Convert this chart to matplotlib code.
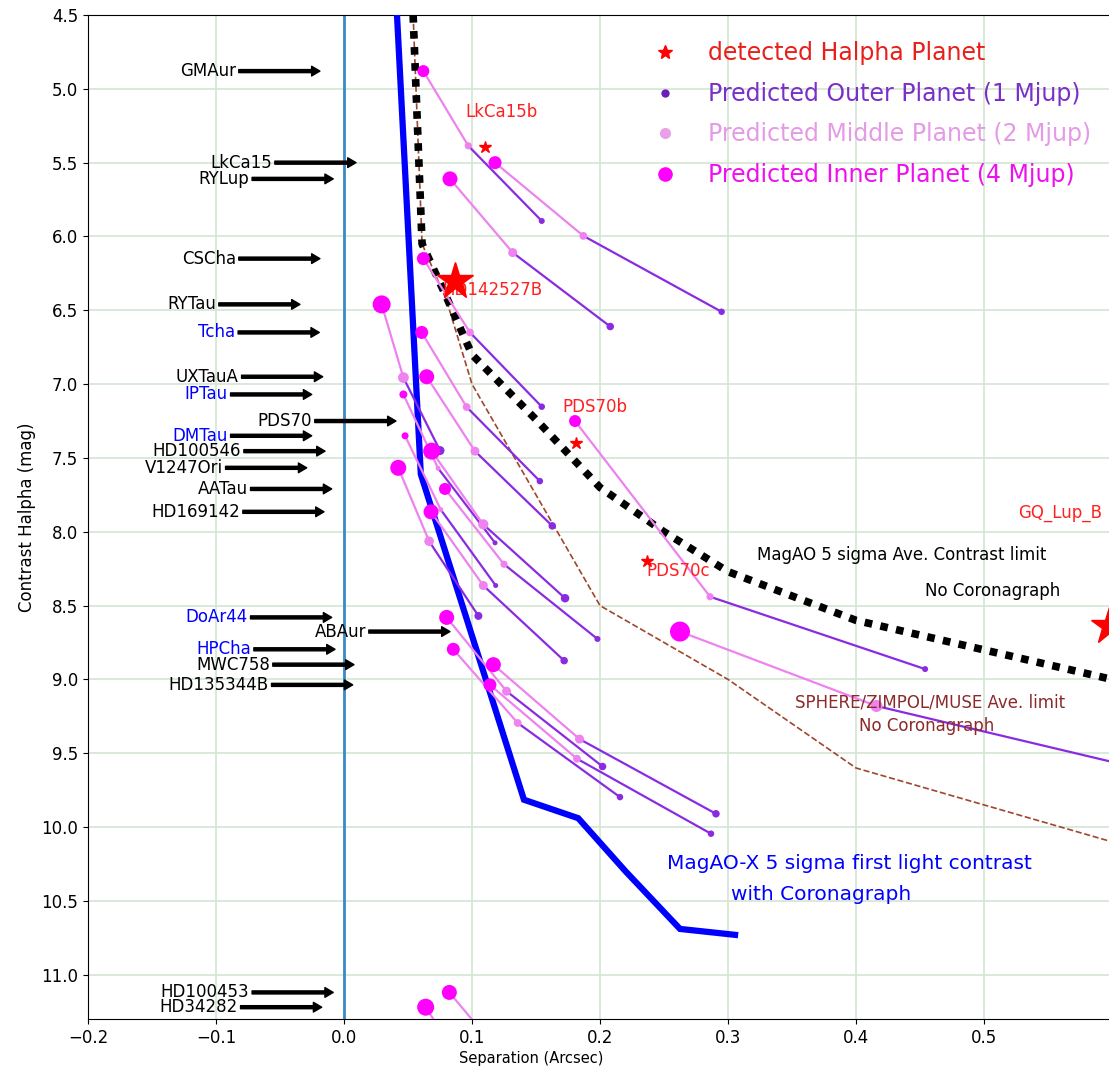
import matplotlib
import matplotlib.pyplot as plt
from matplotlib.lines import Line2D

matplotlib.use("Agg")

# host stars, top to bottom, with predicted planets (inner 4 Mjup, middle 2 Mjup, outer 1 Mjup)
stars = ["GMAur", "LkCa15", "RYLup", "CSCha", "RYTau", "Tcha", "UXTauA", "IPTau",
         "PDS70", "DMTau", "HD100546", "V1247Ori", "AATau", "HD169142", "DoAr44",
         "ABAur", "HPCha", "MWC758", "HD135344B", "HD100453", "HD34282"]
name_colors = ["black", "black", "black", "black", "black", "blue", "black", "blue",
               "black", "blue", "black", "black", "black", "black", "blue",
               "black", "blue", "black", "black", "black", "black"]
arrow_tip = [-0.0188, 0.0094, -0.0084, -0.0188, -0.0344, -0.0193, -0.0166, -0.0252,
             0.0406, -0.0252, -0.0148, -0.0291, -0.0096, -0.0156, -0.0096,
             0.0828, -0.0070, 0.0078, 0.0068, -0.0084, -0.0174]
inner_mag = [4.88, 5.50, 5.61, 6.15, 6.46, 6.65, 6.95, 7.07, 7.25, 7.35, 7.454, 7.567,
             7.71, 7.865, 8.58, 8.676, 8.796, 8.90, 9.037, 11.12, 11.22]
inner_sep = [0.062, 0.118, 0.0828, 0.062, 0.0294, 0.0607, 0.0646, 0.0464, 0.1805, 0.0477,
             0.0685, 0.0424, 0.0789, 0.068, 0.0802, 0.2625, 0.0854, 0.1167, 0.114,
             0.0823, 0.0638]
middle_sep = [0.0971, 0.187, 0.1318, 0.0984, 0.0464, 0.0958, 0.1023, 0.0735, 0.286, 0.0756,
              0.1088, 0.0665, 0.125, 0.1088, 0.127, 0.416, 0.1357, 0.184, 0.182,
              0.1305, 0.101]
middle_mag = [5.386, 5.996, 6.109, 6.65, 6.956, 7.155, 7.454, 7.57, 8.44, 7.85, 7.95, 8.064,
              8.22, 8.364, 9.08, 9.18, 9.295, 9.404, 9.537, 11.62, 11.72]
outer_sep = [0.1545, 0.295, 0.208, 0.1545, 0.075, 0.153, 0.1627, 0.118, 0.454, 0.1185,
             0.1727, 0.105, 0.198, 0.172, 0.202, 0.659, 0.2156, 0.2906, 0.2867,
             0.207, 0.160]
outer_mag = [5.895, 6.51, 6.61, 7.153, 7.45, 7.657, 7.96, 8.075, 8.93, 8.364, 8.45, 8.57,
             8.726, 8.873, 9.59, 9.68, 9.797, 9.91, 10.045, 12.12, 12.22]

# detected H-alpha companions
detected = ["LkCa15b", "HD142527B", "PDS70b", "PDS70c", "GQ_Lup_B"]
detected_sep = [0.110, 0.0867, 0.181, 0.2365, 0.5975]
detected_mag = [5.397, 6.30, 7.397, 8.20, 8.64]

# contrast curves
magao_sep = [0.054, 0.061, 0.08, 0.10, 0.15, 0.20, 0.25, 0.30, 0.40, 0.50, 0.60]
magao_mag = [4.5, 6.05, 6.41, 6.80, 7.24, 7.70, 8.00, 8.27, 8.60, 8.80, 9.00]
sphere_sep = [0.054, 0.061, 0.08, 0.10, 0.20, 0.30, 0.40, 0.60]
sphere_mag = [4.5, 6.05, 6.43, 7.00, 8.50, 9.00, 9.60, 10.10]
magaox_sep = [0.0414, 0.060, 0.1406, 0.183, 0.22, 0.2625, 0.3055]
magaox_mag = [4.5, 7.61, 9.815, 9.94, 10.30, 10.69, 10.73]

# marker diameters of the inner planets (pixels)
INNER_D = [12, 13, 15, 13, 18, 13, 15, 8, 12, 7, 17, 16, 12, 15, 15, 20, 13, 15, 13, 15, 17]
OUTER_C = "#8a2be2"
MIDDLE_C = "violet"
INNER_C = "magenta"


def area(d_px):
    return (d_px * 0.72) ** 2


fig = plt.figure(figsize=(11.09, 10.72), dpi=100)
ax = fig.add_axes((88 / 1109, 53 / 1072, 1024 / 1109, 1004 / 1072))

ax.grid(True, color="#d3e5d3", lw=1.2)
ax.axvline(0.0, color="#3a8ac4", lw=2, zorder=2.5)

ax.plot(sphere_sep, sphere_mag, color="#a0462d", lw=1.2, ls="--", zorder=2)
ax.plot(magao_sep, magao_mag, color="black", lw=5.5, ls=(0, (1, 1.1)), zorder=2)
ax.plot(magaox_sep, magaox_mag, color="blue", lw=4.5, zorder=3, solid_joinstyle="miter")

for i in range(len(stars)):
    ax.plot([inner_sep[i], middle_sep[i]], [inner_mag[i], middle_mag[i]],
            color=MIDDLE_C, lw=1.6, zorder=3)
    ax.plot([middle_sep[i], outer_sep[i]], [middle_mag[i], outer_mag[i]],
            color=OUTER_C, lw=1.6, zorder=3)

ax.scatter(outer_sep, outer_mag, s=[area(max(5, 0.5 * d)) for d in INNER_D],
           color=OUTER_C, zorder=4, linewidths=0)
ax.scatter(middle_sep, middle_mag, s=[area(max(5, 0.6 * d)) for d in INNER_D],
           color=MIDDLE_C, zorder=4, linewidths=0)
ax.scatter(inner_sep, inner_mag, s=[area(d) for d in INNER_D],
           color=INNER_C, zorder=4, linewidths=0)

star_ms = [9, 28, 9, 9, 28]
label_xy = [(0.0945, 5.16), (0.077, 6.36), (0.1708, 7.155), (0.2359, 8.267), (0.5268, 7.87)]
for name, x, y, ms, (lx, ly) in zip(detected, detected_sep, detected_mag, star_ms, label_xy):
    ax.text(lx, ly, name, color="#ff2020", fontsize=12, ha="left", va="center", zorder=5)
    ax.plot(x, y, marker="*", ms=ms, color="red", ls="none", zorder=6)

for name, c, tip, mag in zip(stars, name_colors, arrow_tip, inner_mag):
    ax.annotate(name, xy=(tip, mag), xytext=(tip - 0.0656, mag), ha="right", va="center",
                color=c, fontsize=12, zorder=5,
                arrowprops=dict(facecolor="black", edgecolor="black", width=2.2,
                                headwidth=7, headlength=6, shrink=0))

ax.text(0.3224, 8.154, "MagAO 5 sigma Ave. Contrast limit", fontsize=12, va="center", zorder=5)
ax.text(0.4539, 8.403, "No Coronagraph", fontsize=12, va="center", zorder=5)
ax.text(0.3523, 9.155, "SPHERE/ZIMPOL/MUSE Ave. limit", fontsize=12, color="#8b2a2a",
        va="center", zorder=5)
ax.text(0.4026, 9.314, "No Coronagraph", fontsize=12, color="#8b2a2a", va="center", zorder=5)
ax.text(0.2521, 10.245, "MagAO-X 5 sigma first light contrast", fontsize=14.5, color="blue",
        va="center", zorder=5)
ax.text(0.3023, 10.46, "with Coronagraph", fontsize=14.5, color="blue", va="center", zorder=5)

handles = [
    Line2D([], [], ls="none", marker="*", ms=10, color="red"),
    Line2D([], [], ls="none", marker="o", ms=5, color="#6a1fb8"),
    Line2D([], [], ls="none", marker="o", ms=7, color="#e9a0e9"),
    Line2D([], [], ls="none", marker="o", ms=9.5, color="magenta"),
]
labels = ["detected Halpha Planet", "Predicted Outer Planet (1 Mjup)",
          "Predicted Middle Planet (2 Mjup)", "Predicted Inner Planet (4 Mjup)"]
ax.legend(handles, labels, loc="upper right", bbox_to_anchor=(1.0, 0.995), frameon=False,
          fontsize=17, labelspacing=0.7,
          labelcolor=["#e8201a", "#7a30c8", "#e59ae5", "#ee10ee"])

ax.set_xlim(-0.2, 0.6)
ax.set_ylim(11.3, 4.5)
ax.set_xticks([-0.2 + 0.1 * k for k in range(8)])
ax.set_yticks([4.5 + 0.5 * k for k in range(14)])
ax.tick_params(labelsize=12)
ax.set_xlabel("Separation (Arcsec)", fontsize=10.5)
ax.set_ylabel("Contrast Halpha (mag)", fontsize=12)
ax.xaxis.set_label_coords(0.4326, -0.032)

fig.savefig("out.png", dpi=100)
